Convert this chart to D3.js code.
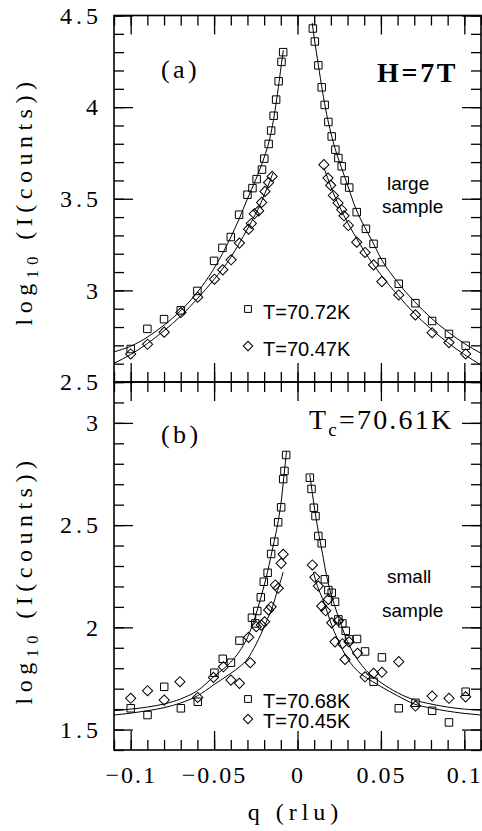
<!DOCTYPE html>
<html><head><meta charset="utf-8">
<script src="https://cdn.jsdelivr.net/npm/d3@7"></script>
<style>
html,body{margin:0;padding:0;background:#fff;}
svg{display:block;}
</style></head><body>
<svg id="chart" width="482" height="831"></svg>
<script>
// ---------- DATA (q in rlu, log10 intensity) ----------
// Panel (a), large sample, H = 7T
const squaresA = [ // T=70.72K
[-0.100,2.680],[-0.090,2.790],[-0.080,2.843],[-0.070,2.891],[-0.060,2.997],[-0.050,3.161],[-0.045,3.232],[-0.040,3.291],[-0.035,3.413],[-0.030,3.522],[-0.027,3.558],[-0.0245,3.607],[-0.0213,3.659],[-0.0199,3.719],[-0.0173,3.799],[-0.0158,3.872],[-0.0143,3.953],[-0.0128,4.041],[-0.0113,4.141],[-0.0096,4.247],[-0.0086,4.300],
[0.0092,4.429],[0.0104,4.358],[0.0125,4.228],[0.0145,4.108],[0.0163,4.012],[0.0185,3.919],[0.0205,3.840],[0.0227,3.768],[0.0245,3.722],[0.0265,3.677],[0.0283,3.600],[0.0310,3.561],[0.0355,3.427],[0.0410,3.336],[0.0456,3.254],[0.0506,3.154],[0.0607,3.036],[0.0707,2.930],[0.0807,2.833],[0.0908,2.762],[0.1008,2.698]
];
const diamondsA = [ // T=70.47K
[-0.100,2.653],[-0.0899,2.706],[-0.0799,2.772],[-0.0699,2.879],[-0.0598,2.963],[-0.0498,3.061],[-0.0448,3.112],[-0.0398,3.167],[-0.0348,3.258],[-0.0293,3.334],[-0.0277,3.365],[-0.0259,3.418],[-0.0233,3.434],[-0.0215,3.480],[-0.0195,3.540],[-0.0173,3.588],[-0.0152,3.622],
[0.0158,3.686],[0.0183,3.613],[0.0199,3.573],[0.0215,3.518],[0.0243,3.477],[0.0265,3.440],[0.0279,3.407],[0.0305,3.354],[0.0355,3.263],[0.0405,3.207],[0.0456,3.139],[0.0506,3.048],[0.0607,2.975],[0.0707,2.866],[0.0807,2.769],[0.0908,2.715],[0.1008,2.653]
];
// Panel (b), small sample
const squaresB = [ // T=70.68K
[-0.100,1.604],[-0.0899,1.571],[-0.0799,1.709],[-0.0699,1.604],[-0.0598,1.636],[-0.0498,1.778],[-0.0448,1.846],[-0.0399,1.827],[-0.0348,1.935],[-0.0273,2.047],[-0.0253,2.019],[-0.0241,2.080],[-0.0220,2.147],[-0.0202,2.223],[-0.0179,2.267],[-0.0158,2.359],[-0.0139,2.419],[-0.0116,2.514],[-0.0098,2.587],[-0.0086,2.725],[-0.0078,2.765],[-0.0068,2.843],
[0.0074,2.732],[0.0084,2.677],[0.0098,2.585],[0.0108,2.544],[0.0125,2.447],[0.0145,2.411],[0.0164,2.235],[0.0185,2.182],[0.0205,2.169],[0.0225,2.125],[0.0245,2.039],[0.0269,2.019],[0.0289,1.983],[0.0309,1.941],[0.0357,1.943],[0.0405,1.882],[0.0456,1.734],[0.0506,1.853],[0.0607,1.604],[0.0707,1.631],[0.0807,1.592],[0.0908,1.535],[0.1008,1.685]
];
const diamondsB = [ // T=70.45K
[-0.100,1.653],[-0.0899,1.690],[-0.0799,1.644],[-0.0705,1.734],[-0.0598,1.657],[-0.0504,1.755],[-0.0444,1.807],[-0.0399,1.742],[-0.0348,1.726],[-0.0293,1.951],[-0.0283,1.827],[-0.0247,2.003],[-0.0217,2.011],[-0.0197,2.027],[-0.0173,2.085],[-0.0158,2.101],[-0.0133,2.207],[-0.0116,2.191],[-0.0098,2.313],[-0.0086,2.357],
[0.0089,2.305],[0.0104,2.245],[0.0125,2.202],[0.0145,2.104],[0.0169,2.081],[0.0185,2.137],[0.0205,2.022],[0.0225,1.929],[0.0245,2.032],[0.0269,1.920],[0.0285,1.843],[0.0309,1.929],[0.0360,1.873],[0.0405,1.758],[0.0456,1.775],[0.0506,1.780],[0.0607,1.832],[0.0707,1.615],[0.0807,1.664],[0.0908,1.653],[0.1008,1.660]
];
// Fit curves (two branches each)
const fitSqAL = [[-0.11,2.665],[-0.10,2.695],[-0.09,2.745],[-0.08,2.81],[-0.07,2.89],[-0.06,2.99],[-0.05,3.12],[-0.045,3.20],[-0.04,3.29],[-0.035,3.39],[-0.03,3.50],[-0.025,3.605],[-0.02,3.725],[-0.017,3.815],[-0.015,3.90],[-0.013,4.01],[-0.011,4.14],[-0.0095,4.245],[-0.0085,4.31]];
const fitSqAR = [[0.0088,4.46],[0.010,4.38],[0.0125,4.23],[0.015,4.085],[0.0175,3.96],[0.020,3.86],[0.0225,3.775],[0.025,3.705],[0.0275,3.64],[0.030,3.575],[0.035,3.445],[0.040,3.35],[0.045,3.265],[0.050,3.175],[0.060,3.045],[0.070,2.94],[0.080,2.85],[0.090,2.775],[0.100,2.71],[0.110,2.657]];
const fitDiAL = [[-0.11,2.602],[-0.10,2.65],[-0.09,2.71],[-0.08,2.78],[-0.07,2.86],[-0.06,2.955],[-0.05,3.06],[-0.04,3.18],[-0.035,3.255],[-0.03,3.335],[-0.025,3.42],[-0.0225,3.465],[-0.02,3.52],[-0.017,3.585],[-0.0148,3.64]];
const fitDiAR = [[0.0158,3.67],[0.018,3.615],[0.020,3.565],[0.0225,3.51],[0.025,3.46],[0.030,3.37],[0.035,3.29],[0.040,3.215],[0.050,3.085],[0.060,2.975],[0.070,2.875],[0.080,2.79],[0.090,2.715],[0.100,2.65],[0.110,2.593]];
const fitSqBL = [[-0.11,1.592],[-0.10,1.60],[-0.09,1.61],[-0.08,1.625],[-0.07,1.65],[-0.06,1.69],[-0.05,1.76],[-0.04,1.83],[-0.035,1.88],[-0.030,1.95],[-0.025,2.06],[-0.0225,2.13],[-0.020,2.205],[-0.018,2.27],[-0.016,2.345],[-0.014,2.42],[-0.012,2.50],[-0.010,2.60],[-0.008,2.75],[-0.0066,2.86]];
const fitDiBL = [[-0.11,1.571],[-0.10,1.58],[-0.09,1.592],[-0.08,1.607],[-0.07,1.63],[-0.06,1.665],[-0.05,1.72],[-0.04,1.775],[-0.035,1.805],[-0.030,1.845],[-0.025,1.915],[-0.022,1.965],[-0.018,2.04],[-0.015,2.10],[-0.012,2.18],[-0.010,2.23],[-0.0086,2.27]];
const fitSqBR = [[0.0074,2.745],[0.009,2.65],[0.011,2.54],[0.013,2.445],[0.015,2.36],[0.017,2.27],[0.020,2.165],[0.0225,2.10],[0.025,2.04],[0.030,1.93],[0.035,1.855],[0.040,1.80],[0.045,1.76],[0.050,1.73],[0.060,1.68],[0.070,1.645],[0.080,1.625],[0.090,1.61],[0.100,1.60],[0.110,1.595]];
const fitDiBR = [[0.0095,2.27],[0.012,2.20],[0.015,2.14],[0.018,2.07],[0.021,2.00],[0.025,1.925],[0.029,1.86],[0.035,1.795],[0.040,1.76],[0.045,1.735],[0.050,1.71],[0.060,1.665],[0.070,1.625],[0.080,1.605],[0.090,1.59],[0.100,1.579],[0.110,1.571]];

// Ticks / labels
const xMajorTicks = [-0.1,-0.05,0,0.05,0.1];
const xTickLabels = ["\u22120.1","\u22120.05","0","0.05","0.1"];
const yTicksA = [2.5,3,3.5,4,4.5];
const yTickLabelsA = ["2.5","3","3.5","4","4.5"];
const yTicksB = [1.5,2,2.5,3];
const yTickLabelsB = ["1.5","2","2.5","3"];
const legendA = ["T=70.72K","T=70.47K"];
const legendB = ["T=70.68K","T=70.45K"];

// ---------- LAYOUT ----------
const svg = d3.select("#chart");
const L = 114, R = 481, T = 15.5, M = 382, B = 750;
const ink = "#000";
const serif = "'Liberation Serif','DejaVu Serif',serif";
const sans = "'Liberation Sans',Arial,sans-serif";

const x = d3.scaleLinear().domain([-0.11, 0.11]).range([L, R]);
const yA = d3.scaleLinear().domain([2.5, 4.5]).range([M, T]);
const yB = d3.scaleLinear().domain([1.4, 3.2]).range([B, M]);

function addAxis(axis, tx, ty, ls) {
  const g = svg.append("g").attr("transform", `translate(${tx},${ty})`).call(axis);
  g.select(".domain").remove();
  g.selectAll(".tick line").attr("stroke", ink).attr("stroke-width", 1.3);
  g.selectAll(".tick text").attr("fill", ink)
    .style("font-family", serif).style("font-size", "24px").style("letter-spacing", (ls || 4) + "px");
  return g;
}

function panel(y, top, bottom, minorCount, yMaj, yLab, showXLabels) {
  const yMinor = y.ticks(minorCount);
  const xMinor = x.ticks(22);
  // left
  addAxis(d3.axisLeft(y).tickValues(yMinor).tickSizeInner(-10).tickSizeOuter(0).tickFormat(""), L, 0);
  addAxis(d3.axisLeft(y).tickValues(yMaj).tickSizeInner(-19).tickSizeOuter(0).tickPadding(12)
    .tickFormat((d,i)=>yLab[i]), L, 0);
  // right
  addAxis(d3.axisRight(y).tickValues(yMinor).tickSizeInner(-10).tickSizeOuter(0).tickFormat(""), R, 0);
  addAxis(d3.axisRight(y).tickValues(yMaj).tickSizeInner(-19).tickSizeOuter(0).tickFormat(""), R, 0);
  // top
  addAxis(d3.axisTop(x).tickValues(xMinor).tickSizeInner(-10).tickSizeOuter(0).tickFormat(""), 0, top);
  addAxis(d3.axisTop(x).tickValues(xMajorTicks).tickSizeInner(-19).tickSizeOuter(0).tickFormat(""), 0, top);
  // bottom
  addAxis(d3.axisBottom(x).tickValues(xMinor).tickSizeInner(-10).tickSizeOuter(0).tickFormat(""), 0, bottom);
  addAxis(d3.axisBottom(x).tickValues(xMajorTicks).tickSizeInner(-19).tickSizeOuter(0).tickPadding(16)
    .tickFormat((d,i)=> showXLabels ? xTickLabels[i] : ""), 0, bottom, 2);
  // frame
  svg.append("rect").attr("x", L).attr("y", top).attr("width", R - L).attr("height", bottom - top)
    .attr("fill", "none").attr("stroke", ink).attr("stroke-width", 1.6);
}

panel(yA, T, M, 20, yTicksA, yTickLabelsA, false);
panel(yB, M, B, 18, yTicksB, yTickLabelsB, true);

// ---------- MARKS ----------
const sqSym = d3.symbol().type(d3.symbolSquare).size(56);
const diSym = d3.symbol().type(d3.symbolSquare).size(52);
const sqLeg = d3.symbol().type(d3.symbolSquare).size(46);
const diLeg = d3.symbol().type(d3.symbolSquare).size(44);

function fit(y, data) {
  svg.append("path").datum(data)
    .attr("d", d3.line().x(d => x(d[0])).y(d => y(d[1])).curve(d3.curveMonotoneX))
    .attr("fill", "none").attr("stroke", ink).attr("stroke-width", 1);
}
function pts(y, data, diamond) {
  svg.append("g").selectAll("path").data(data).join("path")
    .attr("d", diamond ? diSym : sqSym)
    .attr("transform", d => `translate(${x(d[0])},${y(d[1])})` + (diamond ? " rotate(45)" : ""))
    .attr("fill", "none").attr("stroke", ink).attr("stroke-width", 1);
}

[fitSqAL, fitSqAR, fitDiAL, fitDiAR].forEach(f => fit(yA, f));
[fitSqBL, fitSqBR, fitDiBL, fitDiBR].forEach(f => fit(yB, f));
pts(yA, squaresA, false); pts(yA, diamondsA, true);
pts(yB, squaresB, false); pts(yB, diamondsB, true);

// ---------- TEXT ----------
function txt(s, px, py, opts) {
  const t = svg.append("text").attr("x", px).attr("y", py).attr("fill", ink)
    .style("font-family", opts.family || serif).style("font-size", (opts.size || 24) + "px");
  if (opts.weight) t.style("font-weight", opts.weight);
  if (opts.ls) t.style("letter-spacing", opts.ls + "px");
  if (opts.anchor) t.attr("text-anchor", opts.anchor);
  t.text(s);
  return t;
}

// axis titles
svg.append("text").attr("x", L + (R - L) / 2 - 2).attr("y", 820).attr("text-anchor", "middle")
  .attr("fill", ink).style("font-family", serif).style("font-size", "24px").style("letter-spacing", "5px")
  .text("q (rlu)");

function yTitle(cy) {
  const t = svg.append("text").attr("transform", `translate(32,${cy}) rotate(-90)`)
    .attr("text-anchor", "middle").attr("fill", ink)
    .style("font-family", serif).style("font-size", "24px").style("letter-spacing", "5.5px");
  t.append("tspan").text("log");
  t.append("tspan").attr("dy", 6).style("font-size", "16px").text("10");
  t.append("tspan").attr("dy", -6).text(" (I(counts))");
}
yTitle(201);
yTitle(580);

// panel annotations
txt("(a)", 161, 78, {size: 26, ls: 3.4});
txt("H=7T", 377, 82, {size: 28, weight: "bold", ls: 2.7});
txt("large", 387, 190, {family: sans, size: 19});
txt("sample", 382, 213, {family: sans, size: 19});

txt("(b)", 161, 443, {size: 26, ls: 3.4});
{
  const t = svg.append("text").attr("x", 309).attr("y", 429).attr("fill", ink)
    .style("font-family", serif).style("font-size", "28px").style("letter-spacing", "2.2px");
  t.append("tspan").text("T");
  t.append("tspan").attr("dy", 7).style("font-size", "19px").text("c");
  t.append("tspan").attr("dy", -7).text("=70.61K");
}
txt("small", 387, 583, {family: sans, size: 19});
txt("sample", 382, 617, {family: sans, size: 19});

// legends
function legend(labels, ys, markerYs) {
  svg.append("path").attr("d", sqLeg).attr("transform", `translate(248,${markerYs[0]})`)
    .attr("fill", "none").attr("stroke", ink).attr("stroke-width", 1);
  svg.append("path").attr("d", diLeg).attr("transform", `translate(248,${markerYs[1]}) rotate(45)`)
    .attr("fill", "none").attr("stroke", ink).attr("stroke-width", 1);
  txt(labels[0], 263, ys[0], {family: sans, size: 20});
  txt(labels[1], 263, ys[1], {family: sans, size: 20});
}
legend(legendA, [319, 356], [309, 346]);
legend(legendB, [708, 728], [699, 719]);
</script>
</body></html>
